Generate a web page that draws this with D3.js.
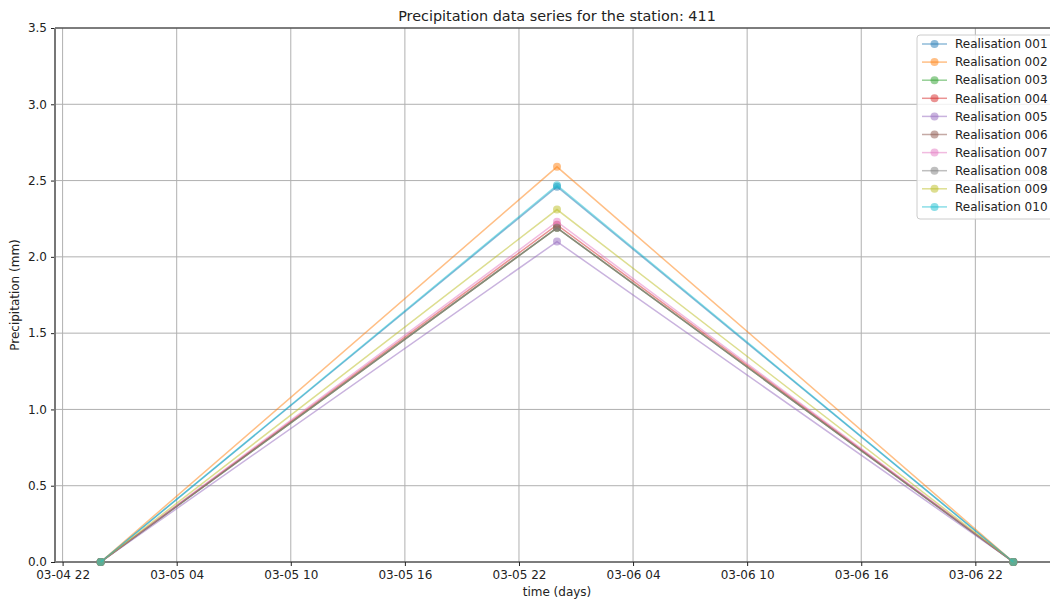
<!DOCTYPE html>
<html>
<head>
<meta charset="utf-8">
<script src="https://cdn.jsdelivr.net/npm/d3@7"></script>
<style>
  body { margin: 0; background: #fff; }
  svg text { font-family: "DejaVu Sans", sans-serif; fill: #222; }
</style>
</head>
<body>
<svg id="chart" width="1050" height="599"></svg>
<script>
const dates = ['2019-03-05 00', '2019-03-06 00', '2019-03-07 00'];
const seriesNames = ['Realisation 001', 'Realisation 002', 'Realisation 003', 'Realisation 004', 'Realisation 005',
    'Realisation 006', 'Realisation 007', 'Realisation 008', 'Realisation 009', 'Realisation 010'];
const seriesValues = [
    [0, 2.46, 0],
    [0, 2.59, 0],
    [0, 2.19, 0],
    [0, 2.21, 0],
    [0, 2.10, 0],
    [0, 2.19, 0],
    [0, 2.23, 0],
    [0, 2.19, 0],
    [0, 2.31, 0],
    [0, 2.47, 0]
];
const xTicks = ['2019-03-04 22', '2019-03-05 04', '2019-03-05 10', '2019-03-05 16', '2019-03-05 22',
    '2019-03-06 04', '2019-03-06 10', '2019-03-06 16', '2019-03-06 22'];
const yTicks = [0, 0.5, 1.0, 1.5, 2.0, 2.5, 3.0, 3.5];
const colors = ['#1f77b4', '#ff7f0e', '#2ca02c', '#d62728', '#9467bd', '#8c564b', '#e377c2', '#7f7f7f', '#bcbd22', '#17becf'];

const parse = d3.timeParse('%Y-%m-%d %H');
const fmt = d3.timeFormat('%m-%d %H');

const svg = d3.select('svg#chart');
const margin = {top: 28, right: -9, bottom: 37, left: 55};
const width = +svg.attr('width') - margin.left - margin.right;
const height = +svg.attr('height') - margin.top - margin.bottom;
const g = svg.append('g').attr('transform', `translate(${margin.left},${margin.top})`);

const t0 = parse(dates[0]), t1 = parse(dates[dates.length - 1]);
const pad = (t1 - t0) * 0.05;
const x = d3.scaleTime()
    .domain([new Date(+t0 - pad), new Date(+t1 + pad)])
    .range([0, width]);
const y = d3.scaleLinear()
    .domain([0, 3.5])
    .range([height, 0]);

// grid
g.append('g').selectAll('line.vg')
    .data(xTicks.map(parse))
    .join('line')
    .attr('x1', d => x(d)).attr('x2', d => x(d))
    .attr('y1', 0).attr('y2', height)
    .attr('stroke', '#b0b0b0').attr('stroke-width', 1);
g.append('g').selectAll('line.hg')
    .data(yTicks)
    .join('line')
    .attr('x1', 0).attr('x2', width)
    .attr('y1', d => y(d)).attr('y2', d => y(d))
    .attr('stroke', '#b0b0b0').attr('stroke-width', 1);

// axes
const xAxis = g.append('g')
    .attr('transform', `translate(0,${height})`)
    .call(d3.axisBottom(x).tickValues(xTicks.map(parse)).tickFormat(fmt).tickSizeOuter(0).tickSize(4).tickPadding(4));
const yAxis = g.append('g')
    .call(d3.axisLeft(y).tickValues(yTicks).tickFormat(d3.format('.1f')).tickSizeOuter(0).tickSize(4).tickPadding(4));
[xAxis, yAxis].forEach(a => {
    a.select('.domain').remove();
    a.selectAll('text').style('font-size', '12px').attr('fill', '#222');
    a.selectAll('line').attr('stroke', '#222');
});

// spines
g.append('line').attr('x1', 0).attr('x2', width).attr('y1', height).attr('y2', height).attr('stroke', '#222');
g.append('line').attr('x1', 0).attr('x2', width).attr('y1', 0).attr('y2', 0).attr('stroke', '#222');
g.append('line').attr('x1', 0).attr('x2', 0).attr('y1', 0).attr('y2', height).attr('stroke', '#777').attr('stroke-width', 2);

// series
const line = d3.line()
    .x((d, i) => x(parse(dates[i])))
    .y(d => y(d));

seriesValues.forEach((vals, k) => {
    const s = g.append('g');
    s.append('path')
        .datum(vals)
        .attr('fill', 'none')
        .attr('stroke', colors[k])
        .attr('stroke-opacity', 0.5)
        .attr('stroke-width', 1.5)
        .attr('d', line);
    s.selectAll('circle')
        .data(vals)
        .join('circle')
        .attr('cx', (d, i) => x(parse(dates[i])))
        .attr('cy', d => y(d))
        .attr('r', 4)
        .attr('fill', colors[k])
        .attr('fill-opacity', 0.5);
});

// title and labels
svg.append('text')
    .attr('x', 557).attr('y', 21)
    .attr('text-anchor', 'middle')
    .style('font-size', '14.4px')
    .text('Precipitation data series for the station: 411');
svg.append('text')
    .attr('x', 557).attr('y', 596)
    .attr('text-anchor', 'middle')
    .style('font-size', '12px')
    .text('time (days)');
svg.append('text')
    .attr('transform', `translate(19,${margin.top + height / 2}) rotate(-90)`)
    .attr('text-anchor', 'middle')
    .style('font-size', '12px')
    .text('Precipitation (mm)');

// legend
const lg = svg.append('g').attr('transform', 'translate(917,35)');
lg.append('rect')
    .attr('width', 140).attr('height', 184)
    .attr('rx', 3)
    .attr('fill', '#fff').attr('fill-opacity', 0.8)
    .attr('stroke', '#ccc');
seriesNames.forEach((name, k) => {
    const row = lg.append('g').attr('transform', `translate(0,${9 + k * 18.1})`);
    row.append('line')
        .attr('x1', 5).attr('x2', 30)
        .attr('stroke', colors[k]).attr('stroke-opacity', 0.5).attr('stroke-width', 1.5);
    row.append('circle')
        .attr('cx', 17.5).attr('r', 4)
        .attr('fill', colors[k]).attr('fill-opacity', 0.5);
    row.append('text')
        .attr('x', 38).attr('dy', '0.35em')
        .style('font-size', '12px')
        .text(name);
});
</script>
</body>
</html>
